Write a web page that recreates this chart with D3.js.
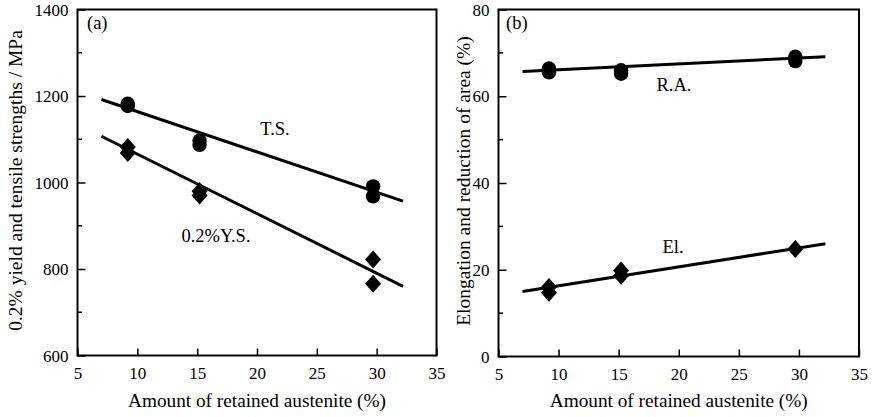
<!DOCTYPE html>
<html>
<head>
<meta charset="utf-8">
<script src="https://cdn.jsdelivr.net/npm/d3@7"></script>
<style>
  html, body { margin: 0; padding: 0; background: #fff; }
  svg text { font-family: "Liberation Serif", "Times New Roman", serif; fill: #000; }
</style>
</head>
<body>
<svg id="chart" width="873" height="417"></svg>
<script>
// Retained austenite content (%) of each specimen
const tsX = [9.2, 9.2, 15.2, 15.2, 29.7, 29.7];
const tsY = [1182, 1177, 1097, 1087, 991, 968];      // tensile strength, MPa
const ysX = [9.2, 9.2, 15.2, 15.2, 29.7, 29.7];
const ysY = [1082, 1068, 980, 970, 822, 766];        // 0.2% yield strength, MPa
const raX = [9.2, 9.2, 15.2, 15.2, 29.7, 29.7];
const raY = [66.4, 65.5, 66.0, 65.2, 69.1, 68.1];    // reduction of area, %
const elX = [9.2, 9.2, 15.2, 15.2, 29.7];
const elY = [16.0, 14.7, 19.8, 18.6, 24.8];          // elongation, %

// Linear fits (end points)
const fitX = [7, 32.2];
const tsFit = [1192, 957];
const ysFit = [1107, 760];
const raFit = [65.7, 69.1];
const elFit = [15.0, 26.0];

const xTicks = [5, 10, 15, 20, 25, 30, 35];
const yTicksA = [600, 800, 1000, 1200, 1400];
const yMinorA = [700, 900, 1100, 1300];
const yTicksB = [0, 20, 40, 60, 80];
const yMinorB = [10, 30, 50, 70];

const svg = d3.select("#chart");

function panel(cfg) {
  const g = svg.append("g");
  const x = d3.scaleLinear().domain([5, 35]).range([cfg.left, cfg.right]);
  const y = d3.scaleLinear().domain(cfg.yDomain).range([cfg.bottom, cfg.top]);

  // Axes with inward ticks
  const xAxis = d3.axisBottom(x).tickValues(xTicks).tickSize(-7).tickPadding(11).tickFormat(d3.format("d"));
  const gx = g.append("g").attr("transform", `translate(0,${cfg.bottom})`).call(xAxis);
  const yAxis = d3.axisLeft(y).tickValues(cfg.yTicks).tickSize(-8).tickPadding(9).tickFormat(d3.format("d"));
  const gy = g.append("g").attr("transform", `translate(${cfg.left},0)`).call(yAxis);
  [gx, gy].forEach(a => {
    a.select(".domain").remove();
    a.selectAll(".tick line").attr("stroke", "#000").attr("stroke-width", 1.5);
    a.selectAll(".tick text").attr("font-size", 17);
  });
  gy.selectAll(".tick text").attr("dy", "0.33em");
  g.append("g").selectAll("line").data(cfg.yMinor).join("line")
    .attr("x1", cfg.left).attr("x2", cfg.left + 4.5)
    .attr("y1", d => y(d)).attr("y2", d => y(d))
    .attr("stroke", "#000").attr("stroke-width", 1.5);

  // Frame
  g.append("rect").attr("x", cfg.left).attr("y", cfg.top)
    .attr("width", cfg.right - cfg.left).attr("height", cfg.bottom - cfg.top)
    .attr("fill", "none").attr("stroke", "#000").attr("stroke-width", 2);

  // Fit lines
  const line = d3.line().x(d => x(d[0])).y(d => y(d[1]));
  cfg.fits.forEach(f => {
    g.append("path").datum(d3.zip(fitX, f)).attr("d", line)
      .attr("fill", "none").attr("stroke", "#000").attr("stroke-width", 3);
  });

  // Markers
  cfg.circles.forEach(([xs, ys]) => {
    g.append("g").selectAll("circle").data(d3.zip(xs, ys)).join("circle")
      .attr("cx", d => x(d[0])).attr("cy", d => y(d[1]))
      .attr("r", 7.2).attr("fill", "#000");
  });
  cfg.diamonds.forEach(([xs, ys]) => {
    g.append("g").selectAll("path").data(d3.zip(xs, ys)).join("path")
      .attr("d", "M0,-9L8,0L0,9L-8,0Z")
      .attr("transform", d => `translate(${x(d[0])},${y(d[1])})`)
      .attr("fill", "#000");
  });

  // Annotations
  cfg.labels.forEach(l => {
    g.append("text").attr("x", l.x).attr("y", l.y).attr("font-size", 18.5)
      .attr("text-anchor", l.anchor || "middle").text(l.t);
  });

  // Axis titles
  g.append("text").attr("x", (cfg.left + cfg.right) / 2).attr("y", 407)
    .attr("text-anchor", "middle").attr("font-size", 19.3).text("Amount of retained austenite (%)");
  g.append("text")
    .attr("transform", `translate(${cfg.yTitleX},${(cfg.top + cfg.bottom) / 2 - 2}) rotate(-90)`)
    .attr("text-anchor", "middle").attr("font-size", 19.5).text(cfg.yTitle);
}

panel({
  left: 77.5, right: 436.5, top: 9.5, bottom: 355.5,
  yDomain: [600, 1400], yTicks: yTicksA, yMinor: yMinorA,
  fits: [tsFit, ysFit],
  circles: [[tsX, tsY]],
  diamonds: [[ysX, ysY]],
  yTitle: "0.2% yield and tensile strengths / MPa", yTitleX: 22,
  labels: [
    { t: "(a)", x: 87, y: 29, anchor: "start" },
    { t: "T.S.", x: 275, y: 135 },
    { t: "0.2%Y.S.", x: 216, y: 242 }
  ]
});

panel({
  left: 498.5, right: 859, top: 9.5, bottom: 356.5,
  yDomain: [0, 80], yTicks: yTicksB, yMinor: yMinorB,
  fits: [raFit, elFit],
  circles: [[raX, raY]],
  diamonds: [[elX, elY]],
  yTitle: "Elongation and reduction of area (%)", yTitleX: 470,
  labels: [
    { t: "(b)", x: 506, y: 29, anchor: "start" },
    { t: "R.A.", x: 674, y: 91 },
    { t: "El.", x: 673, y: 253 }
  ]
});
</script>
</body>
</html>
